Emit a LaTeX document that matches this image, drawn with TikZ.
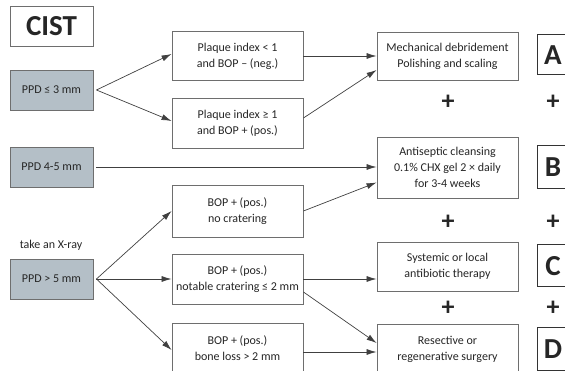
\documentclass[tikz,border=0pt]{standalone}
\usepackage{fontspec}
\setmainfont{Carlito}
\usetikzlibrary{arrows.meta,calc}
\definecolor{PpdClr}{HTML}{B4BFC7}
\definecolor{LineClr}{HTML}{404040}
\definecolor{BoxClr}{HTML}{6E6E6E}
\definecolor{TxtClr}{HTML}{262626}

\tikzset{
  box/.style={draw=BoxClr,line width=0.9pt,fill=white,align=center,inner sep=0pt,text=TxtClr,
    font=\fontsize{12}{16}\selectfont},
  ppdbox/.style={box,fill=PpdClr,minimum width=83pt,minimum height=40pt},
  midbox/.style={box,minimum width=131pt,minimum height=50pt},
  treatbox/.style={box,minimum width=141pt},
  letterbox/.style={draw=black!80,line width=1pt,fill=white,minimum width=32pt,inner sep=0pt,text=TxtClr,
    font=\fontsize{29}{29}\bfseries\selectfont},
  plus/.style={font=\fontsize{26}{26}\bfseries\selectfont,inner sep=0pt,text=TxtClr},
  link/.style={draw=LineClr,line width=0.7pt,-{Latex[length=10pt,width=6pt]}}
}

\begin{document}
\begin{tikzpicture}[x=1pt,y=-1pt]
\useasboundingbox (0,0) rectangle (565,371);
\clip (0,0) rectangle (565,371);

\node[box,minimum width=83pt,minimum height=40pt,font=\fontsize{29}{29}\bfseries\selectfont] (cist) at (51.5,26) {CIST};
\node[ppdbox] (ppdA) at (51.5,90) {PPD ≤ 3 mm};
\node[ppdbox] (ppdB) at (51.5,167) {PPD 4-5 mm};
\node[ppdbox] (ppdC) at (51.5,279) {PPD > 5 mm};
\node[font=\fontsize{12}{16}\selectfont,text=TxtClr] (xray) at (51,245) {take an X-ray};

\node[midbox,minimum height=49pt] (plA) at (237.5,56) {Plaque index < 1\\and BOP – (neg.)};
\node[midbox] (plB) at (237.5,123) {Plaque index ≥ 1\\and BOP + (pos.)};
\node[midbox,minimum height=52pt] (bopA) at (237.5,211) {BOP + (pos.)\\no cratering};
\node[midbox] (bopB) at (237.5,279) {BOP + (pos.)\\notable cratering ≤ 2 mm};
\node[midbox] (bopC) at (237.5,348) {BOP + (pos.)\\bone loss > 2 mm};

\node[treatbox,minimum height=48pt] (mech) at (447.5,56) {Mechanical debridement\\Polishing and scaling};
\node[treatbox,minimum height=61pt] (anti) at (447.5,167.5) {Antiseptic cleansing\\0.1\% CHX gel 2 × daily\\for 3-4 weeks};
\node[treatbox,minimum height=49pt] (syst) at (447.5,266.5) {Systemic or local\\antibiotic therapy};
\node[treatbox,minimum height=50pt] (resec) at (447.5,349) {Resective or\\regenerative surgery};

\node[letterbox,minimum height=40pt] (letA) at (553,55) {A};
\node[letterbox,minimum height=43pt] (letB) at (553,167.5) {B};
\node[letterbox,minimum height=42pt] (letC) at (553,266) {C};
\node[letterbox,minimum height=42pt] (letD) at (553,349) {D};

\node[plus] (plusA) at (448,102) {+};
\node[plus] (plusB) at (553,102) {+};
\node[plus] (plusC) at (448,222) {+};
\node[plus] (plusD) at (553,222) {+};
\node[plus] (plusE) at (448,308) {+};
\node[plus] (plusF) at (553,308) {+};

\coordinate (apexA) at ($(ppdA.east)+(3,0)$);
\coordinate (apexC) at ($(ppdC.east)+(3,0)$);

\draw[link] (apexA) -- ([yshift=2pt]plA.west);
\draw[link] (apexA) -- ([yshift=2pt]plB.west);
\draw[link] (plA.east) -- (mech.west);
\draw[link] ([yshift=5pt]plB.east) -- ([yshift=-14pt]mech.west);

\draw[link] ([xshift=3pt]ppdB.east) -- (ppdB.east -| anti.west);

\draw[link] (apexC) -- (bopA.west);
\draw[link] (apexC) -- (bopB.west);
\draw[link] (apexC) -- ([yshift=-2pt]bopC.west);
\draw[link] (bopA.east) -- ([yshift=-15pt]anti.west);
\draw[link] (bopB.east) -- (bopB.east -| syst.west);
\draw[link] ([yshift=-13pt]bopB.east) -- ([yshift=6pt]resec.west);
\draw[link] ([yshift=-4pt]bopC.east) -- ([yshift=-4pt]bopC.east -| resec.west);

\end{tikzpicture}
\end{document}
